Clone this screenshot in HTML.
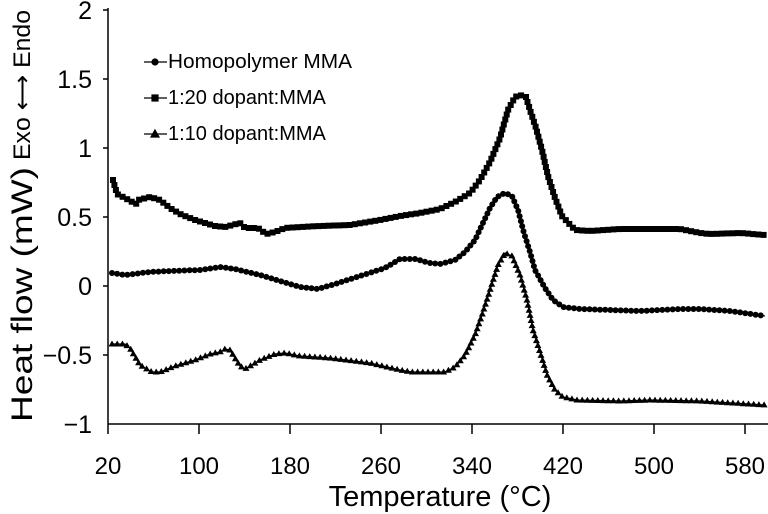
<!DOCTYPE html>
<html><head><meta charset="utf-8"><style>
body{margin:0;background:#fff;width:768px;height:514px;overflow:hidden}
svg{display:block}
text{font-family:"Liberation Sans",sans-serif;fill:#000}
</style></head><body>
<svg id="s" width="768" height="514" viewBox="0 0 768 514">
<g stroke="#000" stroke-width="1.5" fill="none">
<line x1="108" y1="8" x2="108" y2="424"/>
<line x1="108" y1="424" x2="768" y2="424"/>
<line x1="103" y1="10" x2="108" y2="10"/><line x1="103" y1="79" x2="108" y2="79"/>
<line x1="103" y1="148" x2="108" y2="148"/><line x1="103" y1="217" x2="108" y2="217"/>
<line x1="103" y1="286" x2="108" y2="286"/><line x1="103" y1="355" x2="108" y2="355"/>
<line x1="108" y1="424" x2="108" y2="434"/><line x1="199" y1="424" x2="199" y2="434"/>
<line x1="290" y1="424" x2="290" y2="434"/><line x1="381" y1="424" x2="381" y2="434"/>
<line x1="472" y1="424" x2="472" y2="434"/><line x1="563" y1="424" x2="563" y2="434"/>
<line x1="654" y1="424" x2="654" y2="434"/><line x1="745" y1="424" x2="745" y2="434"/>
</g>
<g font-size="25" text-anchor="end">
<text x="92" y="19">2</text><text x="92" y="88">1.5</text><text x="92" y="157">1</text>
<text x="92" y="226">0.5</text><text x="92" y="295">0</text><text x="92" y="364">−0.5</text><text x="92" y="433">−1</text>
</g>
<g font-size="24" text-anchor="middle">
<text x="108" y="474">20</text><text x="199" y="474">100</text><text x="290" y="474">180</text>
<text x="381" y="474">260</text><text x="472" y="474">340</text><text x="563" y="474">420</text>
<text x="654" y="474">500</text><text x="745" y="474">580</text>
<text x="440" y="506" font-size="29">Temperature (°C)</text>
</g>
<text transform="translate(32,422) rotate(-90)" font-size="30" textLength="255" lengthAdjust="spacingAndGlyphs">Heat flow (mW)</text>
<text transform="translate(30,160) rotate(-90)" font-size="24" textLength="150" lengthAdjust="spacingAndGlyphs">Exo <tspan>⟷</tspan> Endo</text>
<g font-size="20">
<text x="168" y="68" textLength="184" lengthAdjust="spacingAndGlyphs">Homopolymer MMA</text>
<text x="168" y="104">1:20 dopant:MMA</text>
<text x="168" y="140">1:10 dopant:MMA</text>
</g>
<g stroke="#000" stroke-width="1.2">
<line x1="144" y1="62" x2="167" y2="62"/><circle cx="155" cy="62" r="3"/>
<line x1="144" y1="98" x2="167" y2="98"/><rect x="152" y="95" width="6" height="6"/>
<line x1="144" y1="134" x2="167" y2="134"/><polygon points="155,130 159,137 151,137"/>
</g>
<g id="d"></g>
</svg>
<script>
var sq=[[113,180],[117,194],[123,197],[136,204],[138,200],[150,197],[160,200],[170,208],[180,214],[195,220],[215,226],[225,227],[240,223],[245,228],[258,228],[266,234],[275,232],[285,228],[300,227],[320,226],[350,225],[380,220],[400,216],[420,213],[440,209],[455,202],[470,193],[480,180],[490,162],[500,138],[508,110],[515,97],[520,95],[526,97],[530,110],[536,128],[542,150],[548,176],[555,198],[562,216],[575,230],[590,231],[620,229],[680,229],[700,233],[710,234],[740,233],[765,235]];
var ci=[[112,273],[125,275],[150,272],[170,271],[200,270],[220,267],[235,269],[260,275],[280,281],[300,287],[318,289],[335,284],[360,276],[385,268],[400,259],[415,259],[430,263],[440,264],[455,260],[465,252],[475,240],[482,225],[490,208],[497,197],[505,193],[512,196],[518,210],[524,233],[530,252],[535,270],[545,288],[553,300],[563,307],[580,309],[610,310],[640,311],[680,309],[700,309],[730,311],[765,316]];
var tr=[[112,344],[125,344],[130,348],[140,365],[152,372],[160,372],[175,366],[195,360],[210,354],[220,352],[225,349],[230,350],[240,366],[245,369],[260,360],[275,354],[285,353],[300,356],[330,358],[370,363],[400,370],[412,372],[445,372],[455,367],[465,355],[475,335],[482,315],[490,290],[498,265],[505,253],[512,256],[520,275],[527,300],[533,330],[540,352],[547,375],[555,390],[563,397],[577,400],[620,401],[650,400],[700,401],[765,405]];
var g=document.getElementById('d'),h='';
function run(p,type){
 var d='M'+p.map(function(q){return q.join(',')}).join('L');
 h+='<path d="'+d+'" fill="none" stroke="#000" stroke-width="1.3"/>';
 var step=5.2,acc=0,pts=[p[0]];
 for(var i=1;i<p.length;i++){var x0=p[i-1][0],y0=p[i-1][1],dx=p[i][0]-x0,dy=p[i][1]-y0,L=Math.hypot(dx,dy),t=step-acc;
  while(t<=L){pts.push([x0+dx*t/L,y0+dy*t/L]);t+=step;} acc=L-(t-step);}
 pts.forEach(function(q){var x=q[0].toFixed(1),y=q[1].toFixed(1);
  if(type==0)h+='<circle cx="'+x+'" cy="'+y+'" r="3"/>';
  else if(type==1)h+='<rect x="'+(q[0]-3).toFixed(1)+'" y="'+(q[1]-3).toFixed(1)+'" width="6" height="6"/>';
  else h+='<polygon points="'+x+','+(q[1]-3.5).toFixed(1)+' '+(q[0]+3.5).toFixed(1)+','+(q[1]+2.5).toFixed(1)+' '+(q[0]-3.5).toFixed(1)+','+(q[1]+2.5).toFixed(1)+'"/>';});
}
run(ci,0);run(sq,1);run(tr,2);
g.innerHTML=h;
</script>
</body></html>
